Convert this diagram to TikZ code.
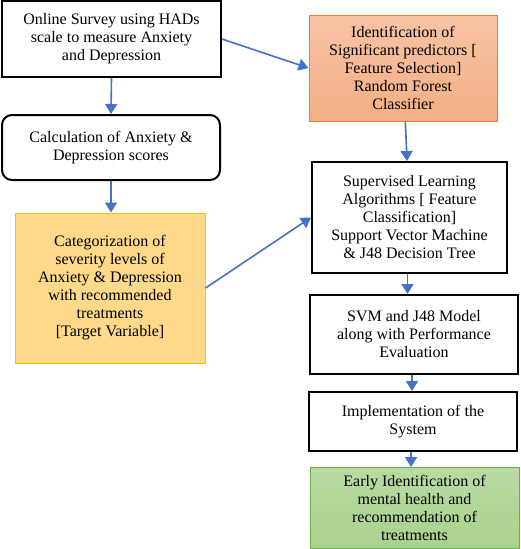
\documentclass[tikz,border=0pt]{standalone}
\usepackage{fontspec}
\setmainfont{Liberation Serif}
\usetikzlibrary{arrows.meta}

\definecolor{tokblue}{HTML}{4472C4}
\definecolor{catfill}{HTML}{FFD98A}
\definecolor{catline}{HTML}{FFC000}
\definecolor{predtop}{HTML}{F8C4A6}
\definecolor{predbot}{HTML}{F4AE84}
\definecolor{predline}{HTML}{ED7D31}
\definecolor{earlytop}{HTML}{B9DBA3}
\definecolor{earlybot}{HTML}{A9D18E}
\definecolor{earlyline}{HTML}{70AD47}

\begin{document}
\begin{tikzpicture}[x=1pt,y=-1pt,
    box/.style={draw=black, line width=2pt, align=center, inner sep=0pt,
      font=\fontsize{16}{18}\selectfont},
    catbox/.style={box, draw=catline, line width=1pt, fill=catfill},
    predbox/.style={box, draw=predline, line width=1pt, top color=predtop, bottom color=predbot},
    earlybox/.style={box, draw=earlyline, line width=1pt, top color=earlytop, bottom color=earlybot},
    tok/.style={draw=tokblue, line width=1.6pt, -{Triangle[length=10pt,width=12pt]}}]
  % fixed frame of the picture
  \useasboundingbox (0,0) rectangle (520,549);

  % --- LEFT COLUMN ---
  \node[box, minimum width=219pt, minimum height=76pt] (survey) at (111.5,39)
    {Online Survey using HADs\\scale to measure Anxiety\\and Depression};
  \node[box, rounded corners=10pt, minimum width=218pt, minimum height=65pt] (calc) at (111,147.5)
    {Calculation of Anxiety \&\\Depression scores};
  \node[catbox, minimum width=190pt, minimum height=150pt] (categ) at (110,288)
    {Categorization of\\severity levels of\\Anxiety \& Depression\\with recommended\\treatments\\{[Target Variable]}};

  % --- RIGHT COLUMN ---
  \node[predbox, minimum width=188pt, minimum height=106pt] (predict) at (403,68)
    {Identification of\\Significant predictors [\\Feature Selection]\\Random Forest\\Classifier};
  \node[box, minimum width=195pt, minimum height=111pt] (superv) at (409.5,217.5)
    {Supervised Learning\\Algorithms [ Feature\\Classification]\\Support Vector Machine\\\& J48 Decision Tree};
  \node[box, minimum width=208pt, minimum height=79pt] (model) at (414,334.5)
    {SVM and J48 Model\\along with Performance\\Evaluation};
  \node[box, minimum width=208pt, minimum height=59pt] (impl) at (413,421.5)
    {Implementation of the\\System};
  \node[earlybox, minimum width=209pt, minimum height=81pt] (early) at (414.5,508)
    {Early Identification of\\mental health and\\recommendation of\\treatments};

  % --- ARROWS ---
  \draw[tok] (survey.south) -- (calc.north);
  \draw[tok] (calc.south) -- (categ.north -| calc.south);
  \draw[tok] (survey.east) -- (predict.west);
  \draw[tok] (categ.east) -- (superv.west);
  \draw[tok] (predict) -- (superv);
  \draw[tok] ([xshift=-2pt]superv.south) -- ([xshift=-2pt]superv.south |- model.north);
  \draw[tok] ([xshift=-2pt]model.south) -- ([xshift=-2pt]model.south |- impl.north);
  \draw[tok] ([xshift=-2pt]impl.south) -- ([xshift=-2pt]impl.south |- early.north);
\end{tikzpicture}
\end{document}
